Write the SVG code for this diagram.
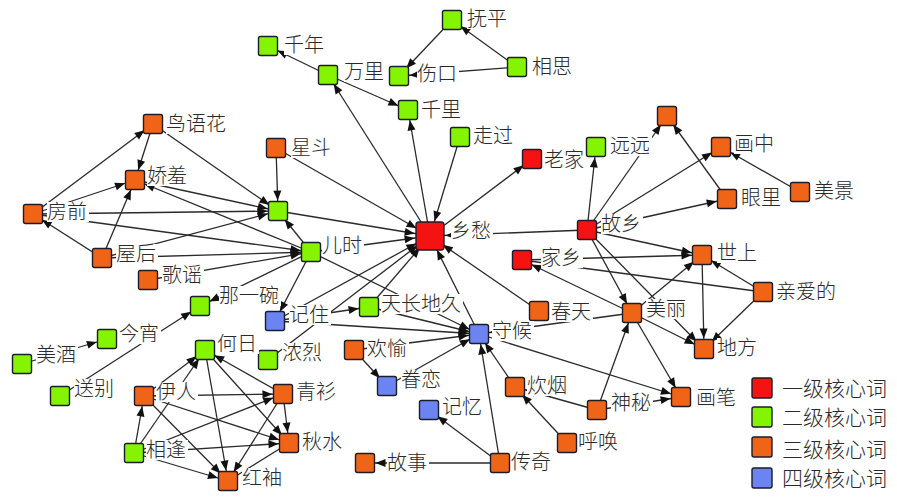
<svg xmlns="http://www.w3.org/2000/svg" width="897" height="503" viewBox="0 0 897 503">
<style>
text{font-family:"Noto Sans CJK SC","Noto Sans CJK JP",sans-serif;font-size:20px;font-weight:300;fill:#2a2a2a}
.lg text{font-size:21px}
.bg{fill:#fff}
.r,.g,.o,.b{stroke:#1c1c2a;stroke-width:1.4}
.r{fill:#f41212}.g{fill:#84f400}.o{fill:#f06418}.b{fill:#6b84f2}
#edges line{stroke:#2a2a2a;stroke-width:1.3;marker-end:url(#a)}
#edges line.B{marker-end:url(#A)}
#edges line.p{marker-end:none}
</style>
<defs>
<marker id="a" markerUnits="userSpaceOnUse" viewBox="-30 -10 40 20" markerWidth="40" markerHeight="20" refX="0" refY="0" orient="auto" overflow="visible"><path d="M-10.5,0L-20.5,-4L-20.5,4Z" fill="#111"/></marker>
<marker id="A" markerUnits="userSpaceOnUse" viewBox="-40 -10 50 20" markerWidth="50" markerHeight="20" refX="0" refY="0" orient="auto" overflow="visible"><path d="M-15.5,0L-25.5,-4L-25.5,4Z" fill="#111"/></marker>
</defs>
<rect width="897" height="503" fill="#fff"/>
<g id="edges">
<line x1="328" y1="75" x2="268" y2="46"/>
<line x1="328" y1="75" x2="408" y2="110"/>
<line x1="430" y1="236" x2="328" y2="75"/>
<line x1="430" y1="236" x2="408" y2="110"/>
<line class="B" x1="460" y1="137" x2="430" y2="236"/>
<line x1="430" y1="236" x2="532" y2="159"/>
<line x1="452" y1="20" x2="399" y2="76"/>
<line x1="517" y1="67" x2="452" y2="20"/>
<line x1="517" y1="67" x2="399" y2="76"/>
<line x1="276" y1="148" x2="278" y2="211"/>
<line class="B" x1="276" y1="148" x2="430" y2="236"/>
<line class="B" x1="278" y1="211" x2="430" y2="236"/>
<line class="B" x1="311" y1="252" x2="430" y2="236"/>
<line x1="311" y1="252" x2="278" y2="211"/>
<line x1="153" y1="124" x2="278" y2="211"/>
<line x1="33" y1="214" x2="153" y2="124"/>
<line x1="153" y1="124" x2="135" y2="180"/>
<line x1="33" y1="214" x2="135" y2="180"/>
<line x1="102" y1="258" x2="135" y2="180"/>
<line x1="102" y1="258" x2="33" y2="214"/>
<line x1="33" y1="214" x2="278" y2="211"/>
<line x1="33" y1="214" x2="311" y2="252"/>
<line x1="135" y1="180" x2="278" y2="211"/>
<line x1="311" y1="252" x2="135" y2="180"/>
<line x1="102" y1="258" x2="278" y2="211"/>
<line x1="102" y1="258" x2="311" y2="252"/>
<line x1="148" y1="280" x2="311" y2="252"/>
<line x1="311" y1="252" x2="275" y2="321"/>
<line x1="311" y1="252" x2="200" y2="306"/>
<line x1="311" y1="252" x2="479" y2="334"/>
<line class="B" x1="275" y1="321" x2="430" y2="236"/>
<line class="B" x1="268" y1="360" x2="430" y2="236"/>
<line x1="275" y1="321" x2="369" y2="307"/>
<line x1="275" y1="321" x2="479" y2="334"/>
<line x1="369" y1="307" x2="479" y2="334"/>
<line class="B" x1="369" y1="307" x2="430" y2="236"/>
<line class="B" x1="479" y1="334" x2="430" y2="236"/>
<line class="B" x1="539" y1="311" x2="430" y2="236"/>
<line class="B" x1="587" y1="230" x2="430" y2="236"/>
<line x1="587" y1="230" x2="596" y2="147"/>
<line x1="587" y1="230" x2="667" y2="116"/>
<line x1="587" y1="230" x2="721" y2="147"/>
<line x1="587" y1="230" x2="727" y2="199"/>
<line x1="727" y1="199" x2="667" y2="116"/>
<line x1="800" y1="192" x2="721" y2="147"/>
<line x1="587" y1="230" x2="702" y2="255"/>
<line x1="587" y1="230" x2="632" y2="313"/>
<line x1="587" y1="230" x2="704" y2="349"/>
<line x1="632" y1="313" x2="702" y2="255"/>
<line x1="702" y1="255" x2="704" y2="349"/>
<line x1="763" y1="292" x2="702" y2="255"/>
<line x1="763" y1="292" x2="704" y2="349"/>
<line x1="632" y1="313" x2="704" y2="349"/>
<line x1="632" y1="313" x2="681" y2="397"/>
<line x1="597" y1="410" x2="632" y2="313"/>
<line x1="597" y1="410" x2="681" y2="397"/>
<line x1="479" y1="334" x2="681" y2="397"/>
<line x1="597" y1="410" x2="515" y2="387"/>
<line x1="567" y1="443" x2="515" y2="387"/>
<line x1="515" y1="387" x2="479" y2="334"/>
<line x1="500" y1="463" x2="479" y2="334"/>
<line x1="500" y1="463" x2="429" y2="410"/>
<line x1="500" y1="463" x2="365" y2="463"/>
<line x1="354" y1="350" x2="479" y2="334"/>
<line x1="354" y1="350" x2="387" y2="386"/>
<line x1="387" y1="386" x2="479" y2="334"/>
<line x1="632" y1="313" x2="479" y2="334"/>
<line x1="632" y1="313" x2="522" y2="260"/>
<line x1="522" y1="260" x2="702" y2="255"/>
<line class="p" x1="763" y1="292" x2="522" y2="260"/>
<line x1="144" y1="396" x2="205" y2="350"/>
<line x1="134" y1="453" x2="205" y2="350"/>
<line x1="205" y1="350" x2="228" y2="481"/>
<line x1="205" y1="350" x2="289" y2="443"/>
<line x1="283" y1="394" x2="205" y2="350"/>
<line x1="144" y1="396" x2="283" y2="394"/>
<line x1="144" y1="396" x2="289" y2="443"/>
<line x1="144" y1="396" x2="228" y2="481"/>
<line x1="283" y1="394" x2="289" y2="443"/>
<line x1="283" y1="394" x2="228" y2="481"/>
<line x1="134" y1="453" x2="144" y2="396"/>
<line x1="134" y1="453" x2="283" y2="394"/>
<line x1="134" y1="453" x2="289" y2="443"/>
<line x1="134" y1="453" x2="228" y2="481"/>
<line class="p" x1="289" y1="443" x2="228" y2="481"/>
<line x1="22" y1="364" x2="107" y2="339"/>
<line x1="60" y1="396" x2="200" y2="306"/>
</g>
<g id="n-qiannian"><rect class="bg" x="284" y="35" width="42" height="20"/><rect class="g" x="258.5" y="36.5" width="19" height="19" rx="2"/><text x="284" y="52">千年</text></g>
<g id="n-wanli"><rect class="bg" x="344" y="62" width="42" height="20"/><rect class="g" x="318.5" y="65.5" width="19" height="19" rx="2"/><text x="344" y="79">万里</text></g>
<g id="n-shangkou"><rect class="bg" x="417" y="64" width="42" height="20"/><rect class="g" x="389.5" y="66.5" width="19" height="19" rx="2"/><text x="417" y="81">伤口</text></g>
<g id="n-fuping"><rect class="bg" x="467" y="9" width="42" height="20"/><rect class="g" x="442.5" y="10.5" width="19" height="19" rx="2"/><text x="467" y="26">抚平</text></g>
<g id="n-xiangsi"><rect class="bg" x="532" y="57" width="42" height="20"/><rect class="g" x="507.5" y="57.5" width="19" height="19" rx="2"/><text x="532" y="74">相思</text></g>
<g id="n-qianli"><rect class="bg" x="421" y="100" width="42" height="20"/><rect class="g" x="398.5" y="100.5" width="19" height="19" rx="2"/><text x="421" y="117">千里</text></g>
<g id="n-zouguo"><rect class="bg" x="473" y="126" width="42" height="20"/><rect class="g" x="450.5" y="127.5" width="19" height="19" rx="2"/><text x="473" y="143">走过</text></g>
<g id="n-laojia"><rect class="bg" x="544" y="150" width="42" height="20"/><rect class="r" x="522.5" y="149.5" width="19" height="19" rx="2"/><text x="544" y="167">老家</text></g>
<g id="n-xingdou"><rect class="bg" x="291" y="138" width="42" height="20"/><rect class="o" x="266.5" y="138.5" width="19" height="19" rx="2"/><text x="291" y="155">星斗</text></g>
<g id="n-green1"><rect class="g" x="268.5" y="201.5" width="19" height="19" rx="2"/></g>
<g id="n-xiangchou"><rect class="bg" x="451" y="221" width="42" height="20"/><rect class="r" x="416" y="222" width="28" height="28" rx="3"/><text x="451" y="238">乡愁</text></g>
<g id="n-guxiang"><rect class="bg" x="601" y="214" width="42" height="20"/><rect class="r" x="577.5" y="220.5" width="19" height="19" rx="2"/><text x="601" y="231">故乡</text></g>
<g id="n-yuanyuan"><rect class="bg" x="610" y="136" width="42" height="20"/><rect class="g" x="586.5" y="137.5" width="19" height="19" rx="2"/><text x="610" y="153">远远</text></g>
<g id="n-orange1"><rect class="o" x="657.5" y="106.5" width="19" height="19" rx="2"/></g>
<g id="n-huazhong"><rect class="bg" x="734" y="134" width="42" height="20"/><rect class="o" x="711.5" y="137.5" width="19" height="19" rx="2"/><text x="734" y="151">画中</text></g>
<g id="n-yanli"><rect class="bg" x="741" y="188" width="42" height="20"/><rect class="o" x="717.5" y="189.5" width="19" height="19" rx="2"/><text x="741" y="205">眼里</text></g>
<g id="n-meijing"><rect class="bg" x="814" y="181" width="42" height="20"/><rect class="o" x="790.5" y="182.5" width="19" height="19" rx="2"/><text x="814" y="198">美景</text></g>
<g id="n-shishang"><rect class="bg" x="717" y="243" width="42" height="20"/><rect class="o" x="692.5" y="245.5" width="19" height="19" rx="2"/><text x="717" y="260">世上</text></g>
<g id="n-jiaxiang"><rect class="bg" x="541" y="248" width="42" height="20"/><rect class="r" x="512.5" y="250.5" width="19" height="19" rx="2"/><text x="541" y="265">家乡</text></g>
<g id="n-qinaide"><rect class="bg" x="776" y="282" width="62" height="20"/><rect class="o" x="753.5" y="282.5" width="19" height="19" rx="2"/><text x="776" y="299">亲爱的</text></g>
<g id="n-meili"><rect class="bg" x="646" y="299" width="42" height="20"/><rect class="o" x="622.5" y="303.5" width="19" height="19" rx="2"/><text x="646" y="316">美丽</text></g>
<g id="n-chuntian"><rect class="bg" x="551" y="302" width="42" height="20"/><rect class="o" x="529.5" y="301.5" width="19" height="19" rx="2"/><text x="551" y="319">春天</text></g>
<g id="n-shouhou"><rect class="bg" x="492" y="321" width="42" height="20"/><rect class="b" x="469.5" y="324.5" width="19" height="19" rx="2"/><text x="492" y="338">守候</text></g>
<g id="n-difang"><rect class="bg" x="717" y="338" width="42" height="20"/><rect class="o" x="694.5" y="339.5" width="19" height="19" rx="2"/><text x="717" y="355">地方</text></g>
<g id="n-huabi"><rect class="bg" x="696" y="388" width="42" height="20"/><rect class="o" x="671.5" y="387.5" width="19" height="19" rx="2"/><text x="696" y="405">画笔</text></g>
<g id="n-shenmi"><rect class="bg" x="611" y="393" width="42" height="20"/><rect class="o" x="587.5" y="400.5" width="19" height="19" rx="2"/><text x="611" y="410">神秘</text></g>
<g id="n-huhuan"><rect class="bg" x="578" y="432" width="42" height="20"/><rect class="o" x="557.5" y="433.5" width="19" height="19" rx="2"/><text x="578" y="449">呼唤</text></g>
<g id="n-chuiyan"><rect class="bg" x="527" y="376" width="42" height="20"/><rect class="o" x="505.5" y="377.5" width="19" height="19" rx="2"/><text x="527" y="393">炊烟</text></g>
<g id="n-chuanqi"><rect class="bg" x="511" y="452" width="42" height="20"/><rect class="o" x="490.5" y="453.5" width="19" height="19" rx="2"/><text x="511" y="469">传奇</text></g>
<g id="n-jiyi"><rect class="bg" x="442" y="397" width="42" height="20"/><rect class="b" x="419.5" y="400.5" width="19" height="19" rx="2"/><text x="442" y="414">记忆</text></g>
<g id="n-gushi"><rect class="bg" x="387" y="453" width="42" height="20"/><rect class="o" x="355.5" y="453.5" width="19" height="19" rx="2"/><text x="387" y="470">故事</text></g>
<g id="n-juanlian"><rect class="bg" x="401" y="370" width="42" height="20"/><rect class="b" x="377.5" y="376.5" width="19" height="19" rx="2"/><text x="401" y="387">眷恋</text></g>
<g id="n-huanyu"><rect class="bg" x="367" y="339" width="42" height="20"/><rect class="o" x="344.5" y="340.5" width="19" height="19" rx="2"/><text x="367" y="356">欢愉</text></g>
<g id="n-tianchangdijiu"><rect class="bg" x="381" y="294" width="82" height="20"/><rect class="g" x="359.5" y="297.5" width="19" height="19" rx="2"/><text x="381" y="311">天长地久</text></g>
<g id="n-jizhu"><rect class="bg" x="289" y="305" width="42" height="20"/><rect class="b" x="265.5" y="311.5" width="19" height="19" rx="2"/><text x="289" y="322">记住</text></g>
<g id="n-nonglie"><rect class="bg" x="282" y="343" width="42" height="20"/><rect class="g" x="258.5" y="350.5" width="19" height="19" rx="2"/><text x="282" y="360">浓烈</text></g>
<g id="n-ershi"><rect class="bg" x="322" y="236" width="42" height="20"/><rect class="g" x="301.5" y="242.5" width="19" height="19" rx="2"/><text x="322" y="253">儿时</text></g>
<g id="n-nayiwan"><rect class="bg" x="219" y="286" width="62" height="20"/><rect class="g" x="190.5" y="296.5" width="19" height="19" rx="2"/><text x="219" y="303">那一碗</text></g>
<g id="n-jinxiao"><rect class="bg" x="119" y="324" width="42" height="20"/><rect class="g" x="97.5" y="329.5" width="19" height="19" rx="2"/><text x="119" y="341">今宵</text></g>
<g id="n-meijiu"><rect class="bg" x="36" y="345" width="42" height="20"/><rect class="g" x="12.5" y="354.5" width="19" height="19" rx="2"/><text x="36" y="362">美酒</text></g>
<g id="n-songbie"><rect class="bg" x="74" y="379" width="42" height="20"/><rect class="g" x="50.5" y="386.5" width="19" height="19" rx="2"/><text x="74" y="396">送别</text></g>
<g id="n-heri"><rect class="bg" x="217" y="334" width="42" height="20"/><rect class="g" x="195.5" y="340.5" width="19" height="19" rx="2"/><text x="217" y="351">何日</text></g>
<g id="n-yiren"><rect class="bg" x="156" y="382" width="42" height="20"/><rect class="o" x="134.5" y="386.5" width="19" height="19" rx="2"/><text x="156" y="399">伊人</text></g>
<g id="n-qingshan"><rect class="bg" x="296" y="382" width="42" height="20"/><rect class="o" x="273.5" y="384.5" width="19" height="19" rx="2"/><text x="296" y="399">青衫</text></g>
<g id="n-xiangfeng"><rect class="bg" x="146" y="440" width="42" height="20"/><rect class="g" x="124.5" y="443.5" width="19" height="19" rx="2"/><text x="146" y="457">相逢</text></g>
<g id="n-qiushui"><rect class="bg" x="302" y="432" width="42" height="20"/><rect class="o" x="279.5" y="433.5" width="19" height="19" rx="2"/><text x="302" y="449">秋水</text></g>
<g id="n-hongxiu"><rect class="bg" x="242" y="468" width="42" height="20"/><rect class="o" x="218.5" y="471.5" width="19" height="19" rx="2"/><text x="242" y="485">红袖</text></g>
<g id="n-niaoyuhua"><rect class="bg" x="166" y="114" width="62" height="20"/><rect class="o" x="143.5" y="114.5" width="19" height="19" rx="2"/><text x="166" y="131">鸟语花</text></g>
<g id="n-jiaoxiu"><rect class="bg" x="147" y="166" width="42" height="20"/><rect class="o" x="125.5" y="170.5" width="19" height="19" rx="2"/><text x="147" y="183">娇羞</text></g>
<g id="n-fangqian"><rect class="bg" x="47" y="202" width="42" height="20"/><rect class="o" x="23.5" y="204.5" width="19" height="19" rx="2"/><text x="47" y="219">房前</text></g>
<g id="n-wuhou"><rect class="bg" x="116" y="244" width="42" height="20"/><rect class="o" x="92.5" y="248.5" width="19" height="19" rx="2"/><text x="116" y="261">屋后</text></g>
<g id="n-geyao"><rect class="bg" x="162" y="265" width="42" height="20"/><rect class="o" x="138.5" y="270.5" width="19" height="19" rx="2"/><text x="162" y="282">歌谣</text></g>
<g id="legend" class="lg">
<rect class="r" x="752" y="378" width="20" height="20" rx="2"/><text x="782" y="396">一级核心词</text>
<rect class="g" x="752" y="407" width="20" height="20" rx="2"/><text x="782" y="425">二级核心词</text>
<rect class="o" x="752" y="437" width="20" height="20" rx="2"/><text x="782" y="457">三级核心词</text>
<rect class="b" x="752" y="468" width="20" height="20" rx="2"/><text x="782" y="486">四级核心词</text>
</g>
</svg>
